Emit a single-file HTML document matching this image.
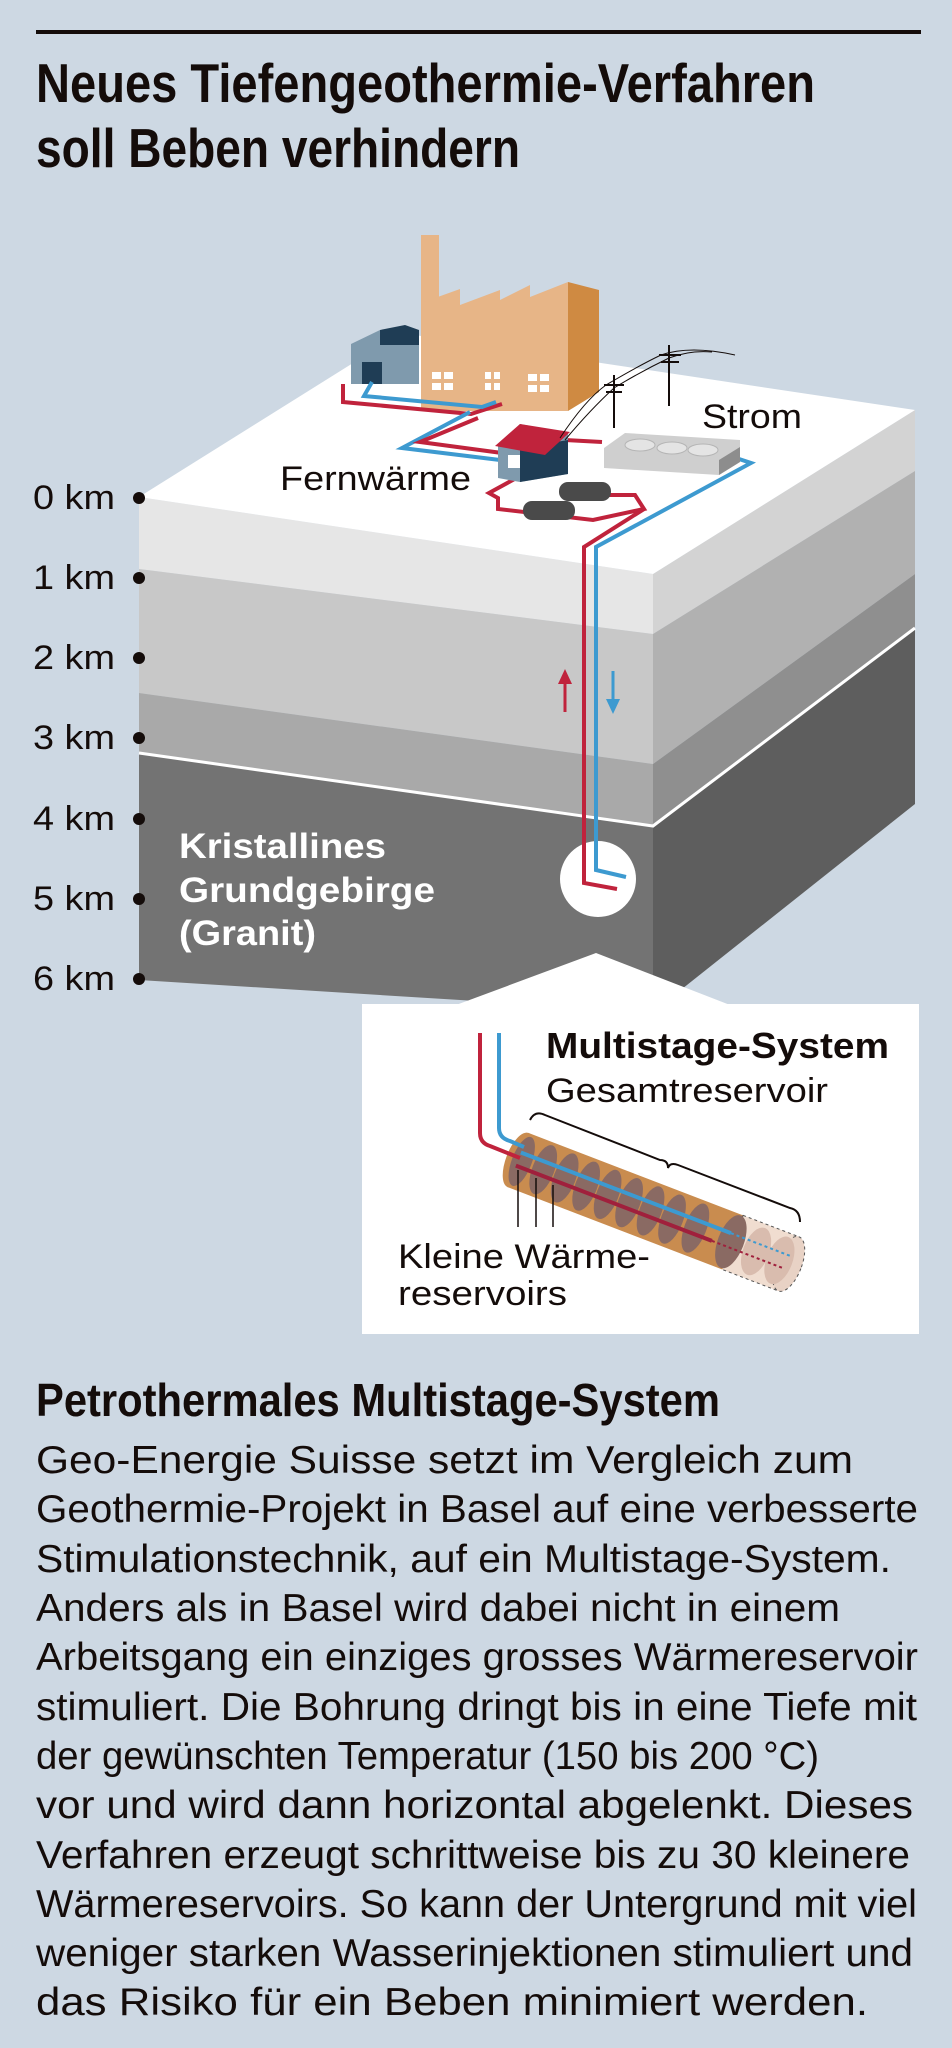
<!DOCTYPE html>
<html><head><meta charset="utf-8"><style>
html,body{margin:0;padding:0;background:#cdd8e3;}
svg{display:block}
.t{font-family:"Liberation Sans Narrow","Liberation Sans",sans-serif;font-weight:bold;fill:#140c0a}
.b{font-family:"Liberation Sans",sans-serif;fill:#140c0a;font-size:39px}
.l{font-family:"Liberation Sans",sans-serif;fill:#140c0a;font-size:34px}
</style></head><body>
<svg width="952" height="2048" viewBox="0 0 952 2048" xmlns="http://www.w3.org/2000/svg">
<rect width="952" height="2048" fill="#cdd8e3"/>
<rect x="36" y="30" width="885" height="4" fill="#140c0a"/>
<text class="t" x="36" y="102" font-size="55" textLength="779" lengthAdjust="spacingAndGlyphs">Neues Tiefengeothermie-Verfahren</text>
<text class="t" x="36" y="167" font-size="55" textLength="484" lengthAdjust="spacingAndGlyphs">soll Beben verhindern</text>

<polygon points="139,497 653,574 653,634 139,569" fill="#e6e6e6"/>
<polygon points="139,569 653,634 653,764 139,693" fill="#c8c8c8"/>
<polygon points="139,693 653,764 653,826 139,753" fill="#a9a9a9"/>
<polygon points="139,753 653,826 653,1012 139,980" fill="#737373"/>
<polygon points="653,574 915,410 915,471 653,634" fill="#d3d3d3"/>
<polygon points="653,634 915,471 915,574 653,764" fill="#b1b1b1"/>
<polygon points="653,764 915,574 915,628 653,826" fill="#8f8f8f"/>
<polygon points="653,826 915,628 915,804 653,1012" fill="#5e5e5e"/>
<polygon points="139,497 401,333 915,410 653,574" fill="#ffffff"/>
<polyline points="139,753 653,826 915,628" fill="none" stroke="#fff" stroke-width="3"/>

<g class="l">
<text x="33" y="509" textLength="82" lengthAdjust="spacingAndGlyphs">0 km</text><text x="33" y="589" textLength="82" lengthAdjust="spacingAndGlyphs">1 km</text><text x="33" y="669" textLength="82" lengthAdjust="spacingAndGlyphs">2 km</text>
<text x="33" y="749" textLength="82" lengthAdjust="spacingAndGlyphs">3 km</text><text x="33" y="830" textLength="82" lengthAdjust="spacingAndGlyphs">4 km</text><text x="33" y="910" textLength="82" lengthAdjust="spacingAndGlyphs">5 km</text><text x="33" y="990" textLength="82" lengthAdjust="spacingAndGlyphs">6 km</text>
</g>
<g fill="#140c0a"><circle cx="139" cy="498" r="6"/><circle cx="139" cy="578" r="6"/><circle cx="139" cy="658" r="6"/><circle cx="139" cy="738" r="6"/><circle cx="139" cy="819" r="6"/><circle cx="139" cy="899" r="6"/><circle cx="139" cy="979" r="6"/></g>
<g font-family="Liberation Sans,sans-serif" font-weight="bold" font-size="35" fill="#fff">
<text x="179" y="858" textLength="207" lengthAdjust="spacingAndGlyphs">Kristallines</text><text x="179" y="902" textLength="256" lengthAdjust="spacingAndGlyphs">Grundgebirge</text><text x="179" y="945" textLength="137" lengthAdjust="spacingAndGlyphs">(Granit)</text></g>

<polygon points="351,344 380,330 419,330 419,384 351,384" fill="#7f9aad"/>
<polygon points="380,330 405,325 419,330 419,345 380,345" fill="#1f3d55"/>
<rect x="362" y="362" width="20" height="22" fill="#1f3d55"/>
<rect x="421" y="235" width="18" height="70" fill="#e7b587"/>
<polygon points="421,303 460,289 460,305 500,290 500,300 530,285 530,297 568,282 568,411 421,411" fill="#e7b587"/>
<polygon points="568,282 599,290 599,392 568,411" fill="#cf8a42"/>
<g fill="#fff"><rect x="432" y="372" width="9" height="7"/><rect x="444" y="372" width="9" height="7"/><rect x="432" y="383" width="9" height="7"/><rect x="444" y="383" width="9" height="7"/>
<rect x="485" y="372" width="6" height="7"/><rect x="494" y="372" width="6" height="7"/><rect x="485" y="383" width="6" height="7"/><rect x="494" y="383" width="6" height="7"/>
<rect x="528" y="374" width="9" height="7"/><rect x="540" y="374" width="9" height="7"/><rect x="528" y="385" width="9" height="7"/><rect x="540" y="385" width="9" height="7"/></g>
<g fill="none" stroke-width="4" stroke-linejoin="miter">
<polyline stroke="#c0233c" points="343,384 343,402 471,414 502,404"/>
<polyline stroke="#3d9ad0" points="372,382 364,396 482,407 496,402"/>
<polyline stroke="#3d9ad0" points="470,412 402,448 500,460"/>
<polyline stroke="#c0233c" points="478,418 420,442 502,453"/>
<polyline stroke="#c0233c" points="565,440 602,442"/>
<polyline stroke="#c0233c" points="520,476 489,493 498,498 498,509 593,520 644,509 635,495 608,495"/>
<polyline stroke="#c0233c" points="644,509 584,547 584,883 617,889"/>
<polyline stroke="#3d9ad0" points="736,458 751,463 596,547 596,870 626,877"/>
</g>
<polygon points="498,445 520,424 568,433 568,474 520,482 498,478" fill="#7f9aad"/>
<polygon points="520,482 568,474 568,440 520,448" fill="#1f3d55"/>
<polygon points="495,446 520,424 570,432 545,455" fill="#c0233c"/>
<rect x="508" y="455" width="12" height="13" fill="#fff"/>
<polygon points="604,448 625,433 740,440 740,462 719,475 604,468" fill="#cfcfcf"/>
<polygon points="719,460 740,447 740,462 719,475" fill="#8d8d8d"/>
<g fill="#e4e4e4" stroke="#b5b5b5"><ellipse cx="640" cy="445" rx="15" ry="6"/><ellipse cx="672" cy="448" rx="15" ry="6"/><ellipse cx="703" cy="450" rx="15" ry="6"/></g>
<rect x="559" y="482" width="52" height="19" rx="9" fill="#4a4a4a"/>
<rect x="523" y="501" width="52" height="19" rx="9" fill="#4a4a4a"/>
<g stroke="#140c0a" stroke-width="2" fill="none">
<line x1="614" y1="375" x2="614" y2="428"/><line x1="604" y1="385" x2="624" y2="385"/><line x1="606" y1="392" x2="622" y2="392"/>
<line x1="669" y1="345" x2="669" y2="406"/><line x1="659" y1="355" x2="681" y2="355"/><line x1="661" y1="362" x2="679" y2="362"/>
<path d="M565,440 Q590,410 614,388 Q640,372 669,358 Q690,350 712,352" stroke-width="1"/>
<path d="M560,438 Q585,400 606,385 Q640,365 661,355 Q690,345 735,355" stroke-width="1"/>
</g>
<g class="l"><text x="280" y="490" textLength="191" lengthAdjust="spacingAndGlyphs">Fernwärme</text><text x="702" y="428" textLength="100" lengthAdjust="spacingAndGlyphs">Strom</text></g>
<line x1="565" y1="712" x2="565" y2="680" stroke="#c0233c" stroke-width="3"/>
<polygon points="558,684 572,684 565,669" fill="#c0233c"/>
<line x1="613" y1="671" x2="613" y2="703" stroke="#3d9ad0" stroke-width="3"/>
<polygon points="606,699 620,699 613,714" fill="#3d9ad0"/>
<circle cx="598" cy="879" r="38" fill="#fff"/>
<g fill="none" stroke-width="4"><polyline stroke="#c0233c" points="584,826 584,883 617,889"/><polyline stroke="#3d9ad0" points="596,826 596,870 626,877"/></g>

<polygon points="456,1005 596,953 730,1005" fill="#fff"/>
<rect x="362" y="1004" width="557" height="330" fill="#fff"/>
<g transform="translate(518,1160) rotate(21)">
 <rect x="0" y="-29" width="230" height="58" fill="#c98c4f"/>
 <rect x="230" y="-29" width="60" height="58" fill="#f0ddd0" stroke="#555" stroke-dasharray="3,3"/>
 <ellipse cx="290" cy="0" rx="13" ry="29" fill="#e8d2c5" stroke="#555" stroke-dasharray="3,3"/>
 <ellipse cx="0" cy="0" rx="12" ry="29" fill="#c98c4f"/>
 <g fill="#8a6a63">
 <ellipse cx="4" cy="0" rx="10" ry="26"/><ellipse cx="27" cy="0" rx="11" ry="26"/><ellipse cx="50" cy="0" rx="11" ry="26"/><ellipse cx="73" cy="0" rx="11" ry="26"/><ellipse cx="96" cy="0" rx="11" ry="26"/><ellipse cx="119" cy="0" rx="11" ry="26"/><ellipse cx="142" cy="0" rx="11" ry="26"/><ellipse cx="165" cy="0" rx="11" ry="26"/><ellipse cx="190" cy="0" rx="11" ry="26"/><ellipse cx="228" cy="0" rx="13" ry="28"/></g>
 <g fill="#d9bcae"><ellipse cx="255" cy="0" rx="13" ry="25"/><ellipse cx="280" cy="0" rx="13" ry="25"/></g>
 <line x1="0" y1="-8" x2="225" y2="-8" stroke="#3d9ad0" stroke-width="4"/>
 <line x1="0" y1="6" x2="210" y2="6" stroke="#a0203c" stroke-width="4"/>
 <line x1="225" y1="-8" x2="288" y2="-8" stroke="#3d9ad0" stroke-width="2" stroke-dasharray="3,3"/>
 <line x1="210" y1="6" x2="288" y2="6" stroke="#a0203c" stroke-width="2" stroke-dasharray="3,3"/>
</g>
<g fill="none" stroke-width="4">
<path d="M480,1033 V1133 Q480,1143 490,1146 L520,1158" stroke="#c0233c"/>
<path d="M499,1033 V1128 Q499,1138 510,1141 L524,1147" stroke="#3d9ad0"/>
</g>
<path d="M530,1120 Q535,1110 545,1115 L660,1160 Q668,1160 668,1168 Q670,1162 678,1165 L790,1208 Q800,1210 800,1222" fill="none" stroke="#140c0a" stroke-width="2"/>
<g stroke="#140c0a" stroke-width="1.5"><line x1="518" y1="1170" x2="518" y2="1227"/><line x1="536" y1="1178" x2="536" y2="1227"/><line x1="553" y1="1185" x2="553" y2="1227"/></g>
<text x="546" y="1058" font-family="Liberation Sans,sans-serif" font-weight="bold" font-size="36" fill="#140c0a" textLength="343" lengthAdjust="spacingAndGlyphs">Multistage-System</text>
<text class="l" x="546" y="1102" textLength="282" lengthAdjust="spacingAndGlyphs">Gesamtreservoir</text>
<text class="l" x="398" y="1268" textLength="252" lengthAdjust="spacingAndGlyphs">Kleine Wärme-</text>
<text class="l" x="398" y="1305" textLength="169" lengthAdjust="spacingAndGlyphs">reservoirs</text>

<text class="t" x="36" y="1416" font-size="46" textLength="684" lengthAdjust="spacingAndGlyphs">Petrothermales Multistage-System</text>
<g class="b">
<text x="36" y="1473" textLength="817" lengthAdjust="spacingAndGlyphs">Geo-Energie Suisse setzt im Vergleich zum</text>
<text x="36" y="1522" textLength="882" lengthAdjust="spacingAndGlyphs">Geothermie-Projekt in Basel auf eine verbesserte</text>
<text x="36" y="1572" textLength="855" lengthAdjust="spacingAndGlyphs">Stimulationstechnik, auf ein Multistage-System.</text>
<text x="36" y="1621" textLength="804" lengthAdjust="spacingAndGlyphs">Anders als in Basel wird dabei nicht in einem</text>
<text x="36" y="1670" textLength="882" lengthAdjust="spacingAndGlyphs">Arbeitsgang ein einziges grosses Wärmereservoir</text>
<text x="36" y="1720" textLength="881" lengthAdjust="spacingAndGlyphs">stimuliert. Die Bohrung dringt bis in eine Tiefe mit</text>
<text x="36" y="1769" textLength="783" lengthAdjust="spacingAndGlyphs">der gewünschten Temperatur (150 bis 200 °C)</text>
<text x="36" y="1818" textLength="877" lengthAdjust="spacingAndGlyphs">vor und wird dann horizontal abgelenkt. Dieses</text>
<text x="36" y="1868" textLength="874" lengthAdjust="spacingAndGlyphs">Verfahren erzeugt schrittweise bis zu 30 kleinere</text>
<text x="36" y="1917" textLength="881" lengthAdjust="spacingAndGlyphs">Wärmereservoirs. So kann der Untergrund mit viel</text>
<text x="36" y="1966" textLength="877" lengthAdjust="spacingAndGlyphs">weniger starken Wasserinjektionen stimuliert und</text>
<text x="36" y="2015" textLength="832" lengthAdjust="spacingAndGlyphs">das Risiko für ein Beben minimiert werden.</text>
</g>
</svg>
</body></html>
